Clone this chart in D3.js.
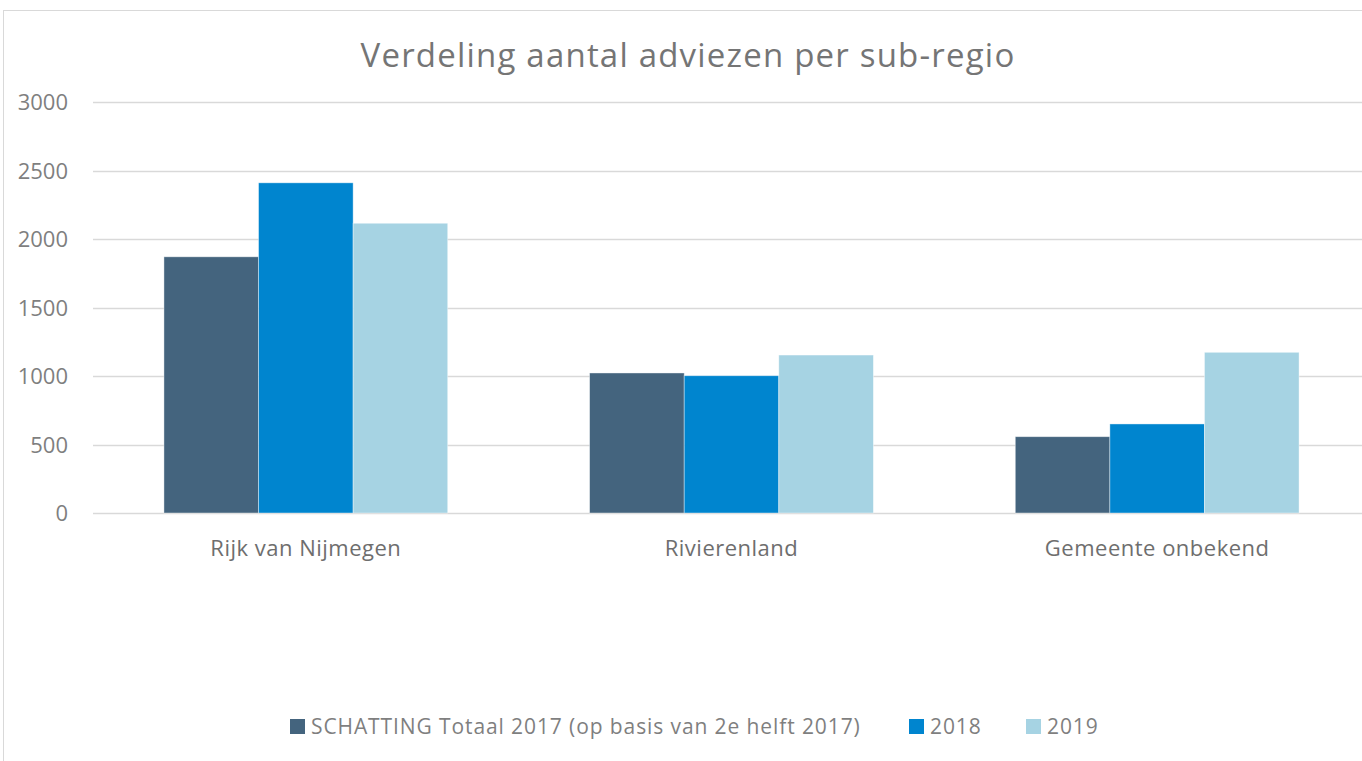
<!DOCTYPE html>
<html>
<head>
<meta charset="utf-8">
<script src="https://cdn.jsdelivr.net/npm/d3@7"></script>
<style>
  body { margin: 0; background: #fff; }
  text { font-family: "Open Sans", "Noto Sans", sans-serif; }
</style>
</head>
<body>
<div id="chart"></div>
<script>
var categories = ["Rijk van Nijmegen", "Rivierenland", "Gemeente onbekend"];
var seriesNames = ["SCHATTING Totaal 2017 (op basis van 2e helft 2017)", "2018", "2019"];
var schatting2017 = [1870, 1022, 557];
var v2018 = [2410, 1002, 650];
var v2019 = [2115, 1153, 1173];
var yTicks = [0, 500, 1000, 1500, 2000, 2500, 3000];
var colors = ["#44647e", "#0085cf", "#a6d3e3"];

var width = 1362, height = 761;
var margin = {left: 93, right: -8, top: 102, bottom: 248};

var svg = d3.select("#chart").append("svg")
  .attr("width", width)
  .attr("height", height);

// chart border
svg.append("rect")
  .attr("x", 3.5).attr("y", 10.5)
  .attr("width", 1400).attr("height", 800)
  .attr("fill", "none")
  .attr("stroke", "#d9d9d9");

var series = [schatting2017, v2018, v2019];

var x0 = d3.scaleBand()
  .domain(categories)
  .range([margin.left, width - margin.right])
  .paddingInner(0)
  .paddingOuter(0);

var x1 = d3.scaleBand()
  .domain(d3.range(series.length))
  .range([0, x0.bandwidth()])
  .paddingOuter(0.75)
  .paddingInner(0);

var y = d3.scaleLinear()
  .domain([0, 3000])
  .range([height - margin.bottom, margin.top]);

// gridlines
svg.append("g").selectAll("line")
  .data(yTicks)
  .enter().append("line")
  .attr("x1", margin.left)
  .attr("x2", width)
  .attr("y1", function(d) { return Math.round(y(d)) + 0.5; })
  .attr("y2", function(d) { return Math.round(y(d)) + 0.5; })
  .attr("stroke", "#d9d9d9")
  .attr("stroke-width", 1.5);

var yAxis = svg.append("g")
  .attr("transform", "translate(" + (margin.left - 25) + ",0)")
  .call(d3.axisLeft(y).tickValues(yTicks).tickFormat(d3.format("d")).tickSize(0).tickPadding(0));
yAxis.select(".domain").remove();
yAxis.selectAll("text")
  .attr("fill", "#7f7f7f")
  .style("font-size", "22px")
  .attr("dy", "0.35em");

// bars
var groups = svg.append("g").selectAll("g")
  .data(categories)
  .enter().append("g")
  .attr("transform", function(d) { return "translate(" + x0(d) + ",0)"; });

groups.selectAll("rect")
  .data(function(d, i) { return series.map(function(s, k) { return {k: k, value: s[i]}; }); })
  .enter().append("rect")
  .attr("x", function(d) { return x1(d.k); })
  .attr("width", x1.bandwidth())
  .attr("y", function(d) { return y(d.value); })
  .attr("height", function(d) { return y(0) - y(d.value); })
  .attr("fill", function(d) { return colors[d.k]; })
  .attr("stroke", "#ffffff")
  .attr("stroke-opacity", 0.5)
  .attr("stroke-width", 0.8);

// category labels
var xAxis = svg.append("g")
  .attr("transform", "translate(0," + y(0) + ")")
  .call(d3.axisBottom(x0).tickSize(0).tickPadding(0));
xAxis.select(".domain").remove();
xAxis.selectAll("text")
  .attr("fill", "#6e6e6e")
  .attr("y", 43)
  .attr("dy", 0)
  .style("font-size", "22px")
  .style("letter-spacing", "0.5px");

// title
svg.append("text")
  .attr("x", 688)
  .attr("y", 67)
  .attr("text-anchor", "middle")
  .attr("fill", "#757575")
  .style("font-size", "33px")
  .style("letter-spacing", "1.2px")
  .text("Verdeling aantal adviezen per sub-regio");

// legend
var legend = svg.append("g").attr("transform", "translate(290,726)");
var offs = [0, 619, 736];
var items = legend.selectAll("g")
  .data(seriesNames)
  .enter().append("g")
  .attr("transform", function(d, i) { return "translate(" + offs[i] + ",0)"; });
items.append("rect")
  .attr("x", 0).attr("y", -7)
  .attr("width", 15).attr("height", 15)
  .attr("fill", function(d, i) { return colors[i]; });
items.append("text")
  .attr("x", 21)
  .attr("y", 8)
  .attr("fill", "#7f7f7f")
  .style("font-size", "21px")
  .style("letter-spacing", "0.9px")
  .text(function(d) { return d; });
</script>
</body>
</html>
